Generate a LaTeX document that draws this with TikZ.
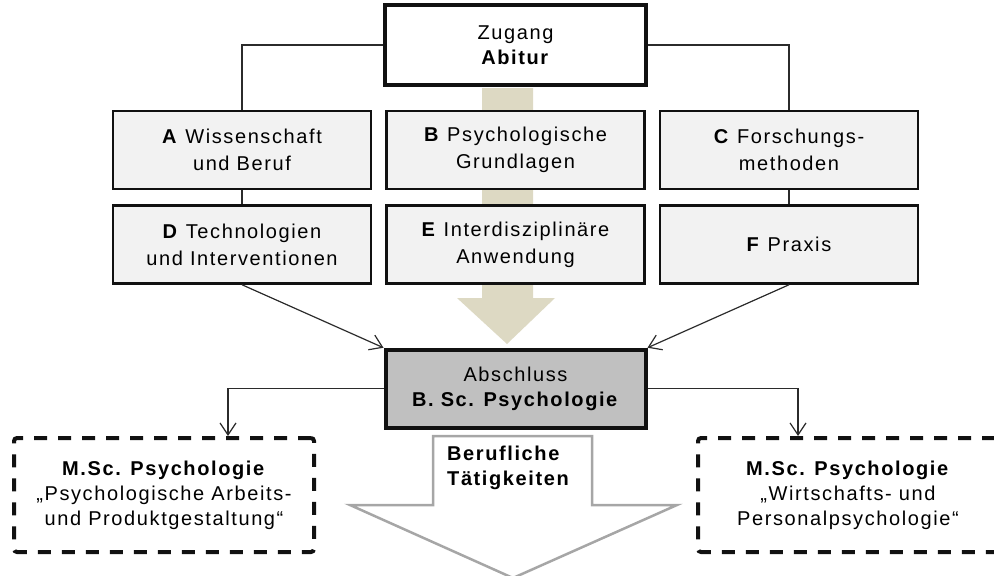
\documentclass[tikz,border=0pt]{standalone}
\usepackage{fontspec}
\setmainfont{Liberation Sans}[LetterSpace=8]
\usetikzlibrary{arrows.meta, positioning, calc, backgrounds}
\definecolor{frame}{HTML}{111111}
\definecolor{wire}{HTML}{2B2B2B}
\definecolor{modfill}{HTML}{F2F2F2}
\definecolor{endfill}{HTML}{C0C0C0}
\definecolor{sand}{HTML}{DDD9C3}
\definecolor{career}{HTML}{A6A6A6}
\tikzset{
  box/.style={
    rectangle, draw=frame, fill=modfill, line width=2.5pt,
    minimum width=258pt, minimum height=78pt,
    align=center, font=\fontsize{20}{27}\selectfont
  },
  entrybox/.style={box, fill=white, line width=3.5pt, minimum width=261pt, minimum height=80pt, font=\fontsize{20}{25}\selectfont},
  degreebox/.style={box, fill=endfill, line width=4pt, minimum width=260pt, minimum height=78pt, font=\fontsize{20}{25}\selectfont},
  masterbox/.style={box, fill=white, line width=4pt, dash pattern=on 13pt off 11pt,
                    rounded corners=3pt, minimum width=300pt, minimum height=114pt,
                    font=\fontsize{20}{25}\selectfont},
  textlabel/.style={font=\bfseries\fontsize{20}{25}\selectfont, align=left, inner sep=0pt},
  link/.style={draw=wire, line width=1.5pt},
  arrow/.style={-{Straight Barb[length=12pt,width=16pt]}, line width=1.2pt, draw=wire},
}

\begin{document}
\begin{tikzpicture}[x=1pt, y=-1pt, node distance=14pt and 13pt]
  \useasboundingbox (0,0) rectangle (994,576);

  % Module
  \node[box] (a) at (242,150) {\textbf{A} Wissenschaft\\und Beruf};
  \node[box, right=of a] (b) {\textbf{B} Psychologische\\Grundlagen};
  \node[box, right=of b] (c) {\textbf{C} Forschungs-\\methoden};
  \node[box, below=of a] (d) {\textbf{D} Technologien\\und Interventionen};
  \node[box, below=of b] (e) {\textbf{E} Interdisziplinäre\\Anwendung};
  \node[box, below=of c] (f) {\textbf{F} Praxis};

  \node[entrybox, above=23pt of b] (zugang) {Zugang\\\textbf{Abitur}};
  \node[degreebox, below=63pt of e] (abschluss) {Abschluss\\\textbf{B. Sc. Psychologie}};

  \node[masterbox] (msca) at (164,495) {\textbf{M.Sc. Psychologie}\\„Psychologische Arbeits-\\und Produktgestaltung“};
  \node[masterbox] (mscw) at (848,495) {\textbf{M.Sc. Psychologie}\\„Wirtschafts- und\\Personalpsychologie“};

  \node[textlabel, anchor=north west] (beruf) at (447,446) {Berufliche\\Tätigkeiten};

  \draw[link] (zugang.west) -| (a.north);
  \draw[link] (zugang.east) -| (c.north);
  \draw[link] (a) -- (d);
  \draw[link] (c) -- (f);
  \draw[arrow] (d.south) -- (abschluss.north west);
  \draw[arrow] (f.south) -- (abschluss.north east);
  \draw[arrow] (abschluss.west) -| ($(msca.north)+(64,0)$);
  \draw[arrow] (abschluss.east) -| ($(mscw.north)+(-50,0)$);

  % breite Pfeile hinter den Kaesten
  \begin{scope}[on background layer]
    \fill[sand] (482,88) -- (482,298) -- (457,298) -- (507,344) -- (555,298) -- (533,298) -- (533,88) -- cycle;
    \draw[career, line width=2.5pt, fill=white] (433,436) -- (592,436) -- (592,505) -- (677,505)
      -- (513,578) -- (350,505) -- (433,505) -- cycle;
  \end{scope}
\end{tikzpicture}
\end{document}
